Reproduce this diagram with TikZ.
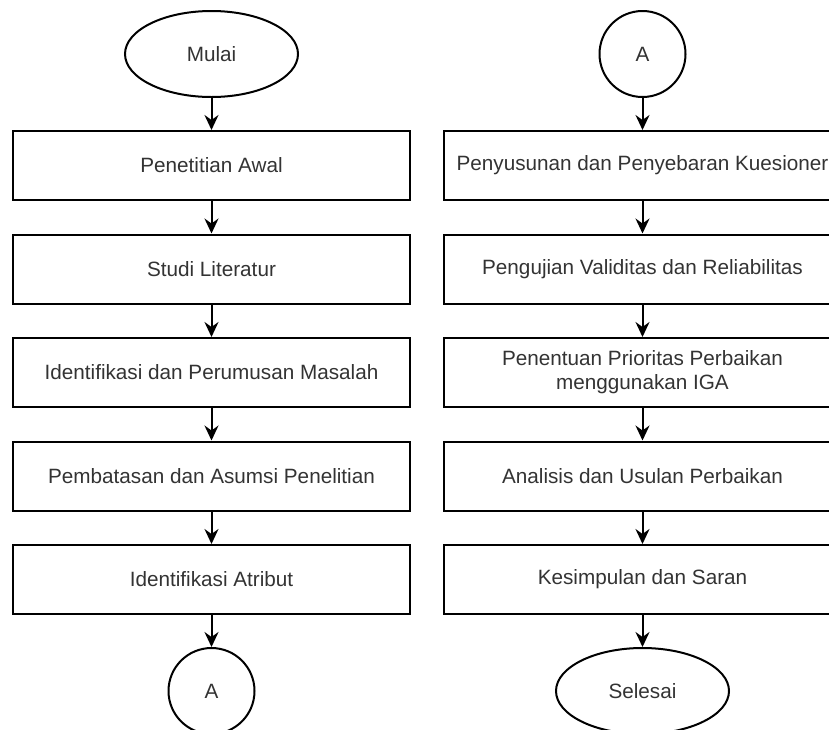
\documentclass[tikz,border=0pt]{standalone}
\usepackage{fontspec}
\setmainfont{Liberation Sans}
\usetikzlibrary{shapes.geometric,arrows.meta}
\begin{document}
\begin{tikzpicture}[x=1pt,y=-1pt,
  txt/.style={font=\fontsize{20.7}{24}\selectfont,text=black!80},
  box/.style={draw,line width=2pt,minimum width=397pt,minimum height=69pt,inner sep=0pt,align=center,txt},
  term/.style={draw,ellipse,line width=2pt,minimum width=173pt,minimum height=86pt,inner sep=0pt,txt},
  conn/.style={draw,circle,line width=2pt,minimum size=86pt,inner sep=0pt,txt},
  flow/.style={-{Stealth[length=15pt,width=14pt,inset=5pt]},line width=2pt}]
\useasboundingbox (0,0) rectangle (829,729);
\clip (0,0) rectangle (829,729);
% left column
\node[term] (mulai) at (211.5,54) {Mulai};
\node[box] (l1) at (211.5,165.5) {Penetitian Awal};
\node[box] (l2) at (211.5,269) {Studi Literatur};
\node[box] (l3) at (211.5,372.5) {Identifikasi dan Perumusan Masalah};
\node[box] (l4) at (211.5,476) {Pembatasan dan Asumsi Penelitian};
\node[box] (l5) at (211.5,579.5) {Identifikasi Atribut};
\node[conn] (a1) at (211.5,691) {A};
% right column
\node[conn] (a2) at (642.5,54) {A};
\node[box] (r1) at (642.5,165.5) {Penyusunan dan Penyebaran Kuesioner};
\node[box] (r2) at (642.5,269) {Pengujian Validitas dan Reliabilitas};
\node[box] (r3) at (642.5,372.5) {Penentuan Prioritas Perbaikan\\menggunakan IGA};
\node[box] (r4) at (642.5,476) {Analisis dan Usulan Perbaikan};
\node[box] (r5) at (642.5,579.5) {Kesimpulan dan Saran};
\node[term] (selesai) at (642.5,691) {Selesai};
% connectors
\draw[flow] (mulai) -- (l1);
\draw[flow] (l1) -- (l2);
\draw[flow] (l2) -- (l3);
\draw[flow] (l3) -- (l4);
\draw[flow] (l4) -- (l5);
\draw[flow] (l5) -- (a1);
\draw[flow] (a2) -- (r1);
\draw[flow] (r1) -- (r2);
\draw[flow] (r2) -- (r3);
\draw[flow] (r3) -- (r4);
\draw[flow] (r4) -- (r5);
\draw[flow] (r5) -- (selesai);
\end{tikzpicture}
\end{document}
